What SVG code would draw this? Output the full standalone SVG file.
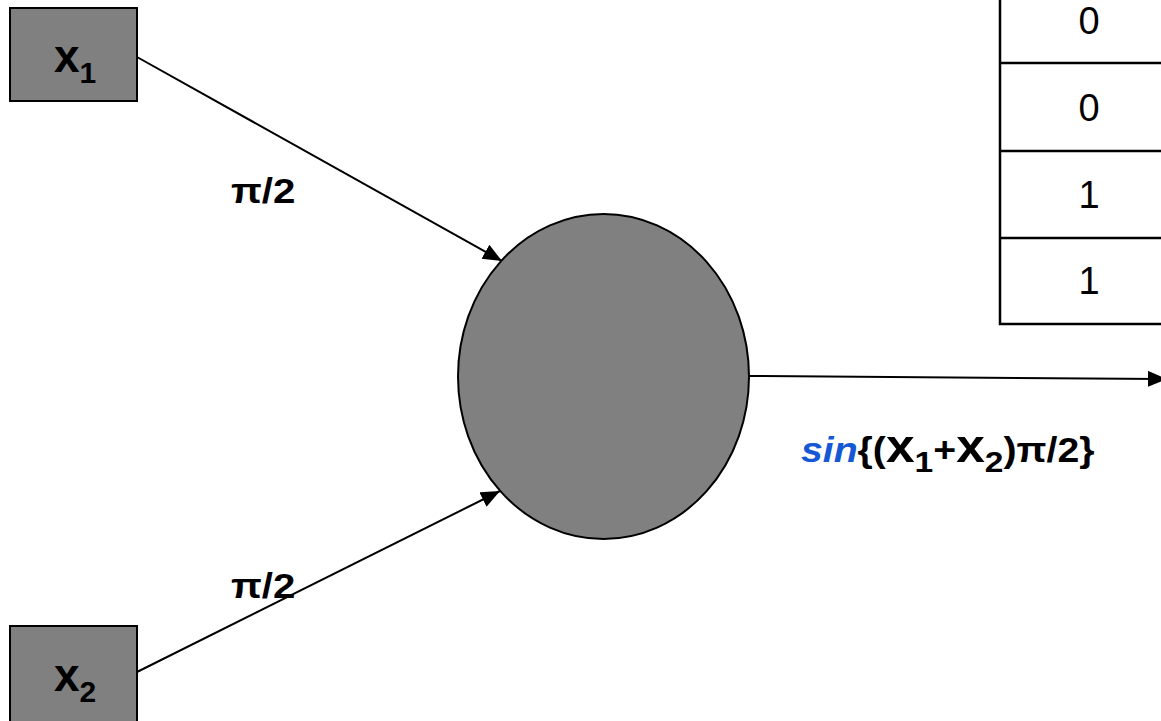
<svg xmlns="http://www.w3.org/2000/svg" width="1161" height="721" viewBox="0 0 1161 721">
  <style>
    .box { fill: #808080; stroke: #000; stroke-width: 2; }
    .wire { stroke: #000; stroke-width: 2; fill: none; }
    .lbl { font-family: "Liberation Sans", Arial, sans-serif; font-weight: bold; fill: #000; }
    .cell { font-family: "Liberation Sans", Arial, sans-serif; font-size: 38px; fill: #000; text-anchor: middle; }
    .grid { stroke: #000; stroke-width: 2.5; fill: none; }
  </style>
  <defs>
    <marker id="head" markerUnits="userSpaceOnUse" markerWidth="22" markerHeight="18" refX="19" refY="8" orient="auto">
      <path d="M0,0 L19,8 L0,16 Z" fill="#000"/>
    </marker>
  </defs>

  <rect width="1161" height="721" fill="#fff"/>

  <!-- truth table, clipped at the top and right edges -->
  <g id="table">
    <path class="grid" d="M1000,-30 V324 H1170 M1000,63 H1170 M1000,151 H1170 M1000,238 H1170"/>
    <text class="cell" x="1089" y="34">0</text>
    <text class="cell" x="1089" y="121">0</text>
    <text class="cell" x="1089" y="208">1</text>
    <text class="cell" x="1089" y="294">1</text>
  </g>

  <g id="connectors">
    <line class="wire" x1="137" y1="57" x2="502" y2="261" marker-end="url(#head)"/>
    <line class="wire" x1="137" y1="672" x2="500" y2="491" marker-end="url(#head)"/>
    <line class="wire" x1="749" y1="376" x2="1167" y2="379" marker-end="url(#head)"/>
    <text class="lbl" transform="translate(231,203) scale(1.15,1)" font-size="35">π/2</text>
    <text class="lbl" transform="translate(231,598) scale(1.15,1)" font-size="35">π/2</text>
  </g>

  <g id="input-x1">
    <rect class="box" x="10" y="8" width="127" height="93"/>
    <text class="lbl" x="54" y="72" font-size="46">x<tspan font-size="30" dy="11">1</tspan></text>
  </g>

  <g id="input-x2">
    <rect class="box" x="10" y="626" width="127" height="96"/>
    <text class="lbl" x="54" y="691" font-size="46">x<tspan font-size="30" dy="11">2</tspan></text>
  </g>

  <g id="neuron">
    <ellipse class="box" cx="603.5" cy="376.5" rx="145.5" ry="162.5"/>
  </g>

  <g id="output-label">
    <text class="lbl" transform="translate(801,462) scale(1.12,1)" font-size="35"><tspan fill="#1558d6" font-style="italic">sin</tspan>{(<tspan font-size="46">x</tspan><tspan font-size="30" dy="10">1</tspan><tspan dy="-10">+</tspan><tspan font-size="46">x</tspan><tspan font-size="30" dy="10">2</tspan><tspan dy="-10">)π/2}</tspan></text>
  </g>
</svg>
